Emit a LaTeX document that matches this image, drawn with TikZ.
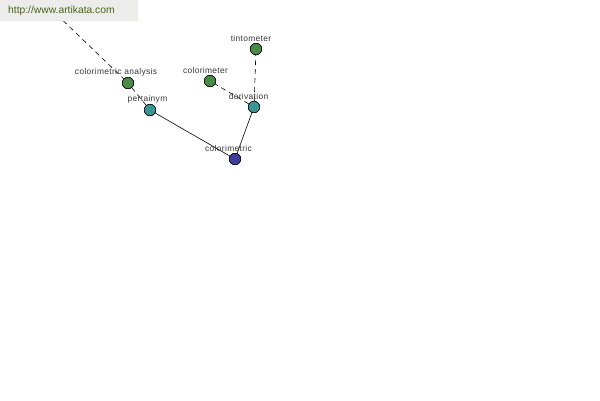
\documentclass[tikz,border=0pt]{standalone}
\usepackage{fontspec}
\setmainfont{Liberation Sans}
\newfontfamily\lblfont[LetterSpace=4]{Liberation Sans}
\begin{document}
\begin{tikzpicture}[x=1pt,y=-1pt,
  vtx/.style={circle,draw=black,line width=0.5pt,minimum size=11.5pt,inner sep=0pt},
  gnode/.style={vtx,fill={rgb,255:red,74;green,140;blue,70}},
  tnode/.style={vtx,fill={rgb,255:red,58;green,150;blue,148}},
  bnode/.style={vtx,fill={rgb,255:red,61;green,61;blue,154}},
  lbl/.style={font=\lblfont\fontsize{8.4}{10}\selectfont,text={rgb,255:red,55;green,55;blue,55},inner sep=0pt},
  rel/.style={line width=0.6pt},
  weak/.style={line width=0.6pt,dash pattern=on 5pt off 4pt}]
\useasboundingbox (0,0) rectangle (600,400);
\fill[white] (0,0) rectangle (600,400);
% nodes
\coordinate (hidden) at (50,8);
\node[gnode] (ca) at (128,83) {};
\node[tnode] (pert) at (150,110) {};
\node[bnode] (cm) at (235,159) {};
\node[tnode] (der) at (254,107) {};
\node[gnode] (tint) at (256,49) {};
\node[gnode] (cmeter) at (210,81) {};
% edges
\draw[weak] (hidden) -- (ca);
\draw[weak] (ca) -- (pert);
\draw[rel] (pert) -- (cm);
\draw[rel] (cm) -- (der);
\draw[weak] (der) -- (cmeter);
\draw[weak] (der) -- (tint);
% redraw nodes on top
\node[gnode] at (ca) {};
\node[tnode] at (pert) {};
\node[bnode] at (cm) {};
\node[tnode] at (der) {};
\node[gnode] at (tint) {};
\node[gnode] at (cmeter) {};
% labels
\node[lbl] (lca) at (116,72) {colorimetric analysis};
\node[lbl] (lpert) at (147.5,99) {pertainym};
\node[lbl] (lcm) at (228.5,148) {colorimetric};
\node[lbl] (lder) at (248.5,96) {derivation};
\node[lbl] (ltint) at (251,38) {tintometer};
\node[lbl] (lcmeter) at (205.5,70) {colorimeter};
% watermark
\fill[fill={rgb,255:red,236;green,236;blue,234}] (0,0) rectangle (138,21);
\node[anchor=west,inner sep=0pt,font=\fontsize{10.3}{12}\selectfont,text={rgb,255:red,74;green,100;blue,30}] (wm) at (8,11) {http://www.artikata.com};
\end{tikzpicture}
\end{document}
